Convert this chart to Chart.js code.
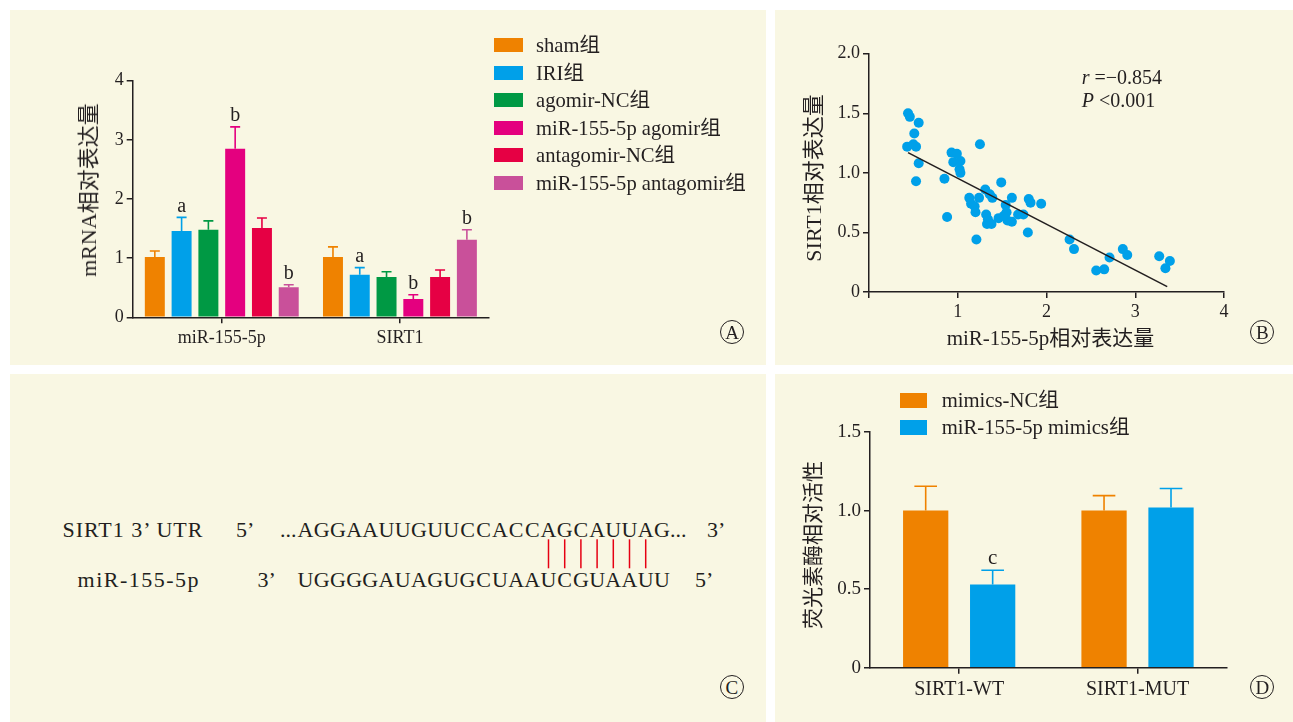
<!DOCTYPE html>
<html>
<head>
<meta charset="utf-8">
<script src="https://cdn.jsdelivr.net/npm/chart.js@4.4.1/dist/chart.umd.min.js"></script>
<style>
  body { margin: 0; width: 1293px; height: 722px; background: #fff; position: relative; overflow: hidden;
         font-family: 'Liberation Serif', 'Noto Sans CJK SC', serif; color: #231f20; }
  .panel { position: absolute; background: #f9f7e3; }
  canvas { position: absolute; }
  .t { position: absolute; white-space: nowrap; line-height: 1; }
  .sw { position: absolute; }
  .circ { position: absolute; width: 24px; height: 24px; border: 1.3px solid #231f20; border-radius: 50%;
          box-sizing: border-box; text-align: center; line-height: 23px; font-size: 19px; }
</style>
</head>
<body>
<div class="panel" style="left:10px;top:10px;width:756px;height:355px"></div>
<div class="panel" style="left:775px;top:10px;width:518px;height:355px"></div>
<div class="panel" style="left:10px;top:374px;width:756px;height:348px"></div>
<div class="panel" style="left:775px;top:374px;width:518px;height:348px"></div>

<canvas id="chartA" width="756" height="355" style="left:10px;top:10px"></canvas>
<canvas id="chartB" width="518" height="355" style="left:775px;top:10px"></canvas>
<canvas id="chartD" width="518" height="348" style="left:775px;top:374px"></canvas>
<svg id="seqC" width="756" height="348" style="position:absolute;left:10px;top:374px"></svg>

<script>
// ---- panel A: mRNA levels ----
const genesA = ['miR-155-5p', 'SIRT1'];
const groupsA = ['sham组', 'IRI组', 'agomir-NC组', 'miR-155-5p agomir组', 'antagomir-NC组', 'miR-155-5p antagomir组'];
const meanA = [[1.02, 1.02], [1.46, 0.72], [1.48, 0.68], [2.85, 0.31], [1.51, 0.68], [0.51, 1.31]];
const errA = [[0.10, 0.17], [0.23, 0.12], [0.15, 0.09], [0.37, 0.07], [0.17, 0.12], [0.04, 0.17]];
const sigA = [['', ''], ['a', 'a'], ['', ''], ['b', 'b'], ['', ''], ['b', 'b']];
const colorsA = ['#ef8200', '#00a0e9', '#009944', '#e4007f', '#e60044', '#c9509a'];

// ---- panel B: correlation ----
const scatterX = [0.44, 0.46, 0.56, 0.51, 0.43, 0.50, 0.53, 1.25, 0.56, 0.53, 0.85, 0.93, 0.99, 0.95, 1.03, 1.02,
  1.03, 0.88, 1.21, 1.13, 1.15, 1.19, 1.24, 1.20, 1.31, 1.36, 1.39, 1.49, 1.32, 1.34, 1.33, 1.38, 1.46, 1.52,
  1.54, 1.61, 1.55, 1.56, 1.61, 1.68, 1.74, 1.80, 1.82, 1.94, 1.79, 2.26, 2.31, 2.56, 2.65, 2.71, 2.86, 2.91,
  3.27, 3.39, 3.34];
const scatterY = [1.50, 1.47, 1.42, 1.33, 1.22, 1.24, 1.22, 1.24, 1.08, 0.93, 0.95, 1.17, 1.16, 1.09, 1.10, 1.03,
  1.00, 0.63, 0.44, 0.79, 0.74, 0.72, 0.79, 0.67, 0.86, 0.82, 0.79, 0.92, 0.65, 0.61, 0.57, 0.57, 0.62, 0.64,
  0.73, 0.79, 0.67, 0.60, 0.59, 0.65, 0.65, 0.78, 0.75, 0.74, 0.50, 0.44, 0.36, 0.18, 0.19, 0.29, 0.36, 0.31,
  0.30, 0.26, 0.20];
const fitX = [0.44, 3.36];
const fitY = [1.17, 0.045];
const statR = '−0.854';
const statP = '<0.001';

// ---- panel C: binding site ----
const utrSeq = 'AGGAAUUGUUCCACCAGCAUUAG';
const mirSeq = 'UGGGGAUAGUGCUAAUCGUAAUU';
const pairIdx = [15, 16, 17, 18, 19, 20, 21];

// ---- panel D: luciferase ----
const sitesD = ['SIRT1-WT', 'SIRT1-MUT'];
const groupsD = ['mimics-NC组', 'miR-155-5p mimics组'];
const meanD = [[1.00, 1.00], [0.53, 1.02]];
const errD = [[0.155, 0.095], [0.09, 0.12]];
const sigD = [['', ''], ['c', '']];
const colorsD = ['#ef8200', '#00a0e9'];

const ink = '#231f20';
const serif = "'Liberation Serif', 'Noto Sans CJK SC', serif";
Chart.defaults.font.family = serif;
Chart.defaults.color = ink;

// upper error bar with cap, plus the significance letter
const errorBars = {
  id: 'errorBars',
  afterDatasetsDraw(chart, args, opts) {
    const ctx = chart.ctx;
    const y = chart.scales.y;
    chart.data.datasets.forEach((ds, i) => {
      chart.getDatasetMeta(i).data.forEach((bar, j) => {
        const top = y.getPixelForValue(ds.data[j] + ds.err[j]);
        const half = bar.width * 0.25;
        ctx.save();
        ctx.strokeStyle = ds.backgroundColor;
        ctx.lineWidth = 1.6;
        ctx.beginPath();
        ctx.moveTo(bar.x, bar.y);
        ctx.lineTo(bar.x, top);
        ctx.moveTo(bar.x - half, top);
        ctx.lineTo(bar.x + half, top);
        ctx.stroke();
        if (ds.sig[j]) {
          ctx.fillStyle = ink;
          ctx.font = opts.font;
          ctx.textAlign = 'center';
          ctx.textBaseline = 'bottom';
          ctx.fillText(ds.sig[j], bar.x, top - 1);
        }
        ctx.restore();
      });
    });
  }
};

const axisGrid = { drawOnChartArea: false, color: ink, lineWidth: 1.5, tickLength: 6 };
const axisBorder = { color: ink, width: 1.5 };

new Chart(document.getElementById('chartA'), {
  type: 'bar',
  data: {
    labels: genesA,
    datasets: groupsA.map((g, i) => ({
      label: g, data: meanA[i], err: errA[i], sig: sigA[i],
      backgroundColor: colorsA[i], categoryPercentage: 0.902, barPercentage: 0.746
    }))
  },
  options: {
    responsive: false, animation: false, devicePixelRatio: 1,
    layout: { padding: { left: 0, top: 70.7, right: 277, bottom: 0 } },
    plugins: { legend: { display: false }, tooltip: { enabled: false }, errorBars: { font: '20px ' + serif } },
    scales: {
      x: {
        grid: Object.assign({ offset: false }, axisGrid), border: axisBorder,
        ticks: { font: { size: 18 }, padding: 4 },
        afterFit: s => { s.height = 47.7; }
      },
      y: {
        min: 0, max: 4,
        grid: axisGrid, border: axisBorder,
        ticks: { stepSize: 1, font: { size: 18 }, padding: 3 },
        afterFit: s => { s.width = 122.7; }
      }
    }
  },
  plugins: [errorBars]
});

new Chart(document.getElementById('chartB'), {
  type: 'scatter',
  data: {
    datasets: [
      {
        data: scatterX.map((x, i) => ({ x: x, y: scatterY[i] })),
        backgroundColor: '#00a0e9', borderColor: '#00a0e9', pointRadius: 5, borderWidth: 0, order: 1
      },
      {
        type: 'line', data: fitX.map((x, i) => ({ x: x, y: fitY[i] })),
        borderColor: ink, borderWidth: 1.6, pointRadius: 0, fill: false, order: 0
      }
    ]
  },
  options: {
    responsive: false, animation: false, devicePixelRatio: 1,
    layout: { padding: { left: 0, top: 43.7, right: 69, bottom: 0 } },
    plugins: { legend: { display: false }, tooltip: { enabled: false } },
    scales: {
      x: {
        type: 'linear', min: 0, max: 4,
        grid: axisGrid, border: axisBorder,
        ticks: { stepSize: 1, font: { size: 18 }, padding: 3, callback: v => v === 0 ? '' : v },
        afterFit: s => { s.height = 73; }
      },
      y: {
        min: 0, max: 2,
        grid: axisGrid, border: axisBorder,
        ticks: { stepSize: 0.5, font: { size: 18 }, padding: 3, callback: v => v === 0 ? '0' : v.toFixed(1) },
        afterFit: s => { s.width = 94; }
      }
    }
  }
});

new Chart(document.getElementById('chartD'), {
  type: 'bar',
  data: {
    labels: sitesD,
    datasets: groupsD.map((g, i) => ({
      label: g, data: meanD[i], err: errD[i], sig: sigD[i],
      backgroundColor: colorsD[i], categoryPercentage: 0.751, barPercentage: 0.676
    }))
  },
  options: {
    responsive: false, animation: false, devicePixelRatio: 1,
    layout: { padding: { left: 0, top: 58, right: 66.3, bottom: 0 } },
    plugins: { legend: { display: false }, tooltip: { enabled: false }, errorBars: { font: '21px ' + serif } },
    scales: {
      x: {
        grid: Object.assign({ offset: false }, axisGrid), border: axisBorder,
        ticks: { font: { size: 20 }, padding: 4 },
        afterFit: s => { s.height = 54.3; }
      },
      y: {
        min: 0, max: 1.5,
        grid: axisGrid, border: axisBorder,
        ticks: { stepSize: 0.5, font: { size: 19 }, padding: 3, callback: v => v === 0 ? '0' : v.toFixed(1) },
        afterFit: s => { s.width = 95; }
      }
    }
  },
  plugins: [errorBars]
});

// ---- text, legends, panel letters ----
function addText(html, x, y, size, extra) {
  const d = document.createElement('div');
  d.className = 't';
  d.innerHTML = html;
  d.style.left = x + 'px';
  d.style.top = y + 'px';
  d.style.fontSize = size + 'px';
  d.style.transform = extra || 'translate(0,-50%)';
  document.body.appendChild(d);
  return d;
}
function addLegend(names, colors, swX, swW, swH, textX, rowY, gap, size) {
  names.forEach((n, i) => {
    const cy = rowY + i * gap;
    const s = document.createElement('div');
    s.className = 'sw';
    s.style.cssText = `left:${swX}px;top:${cy - swH / 2}px;width:${swW}px;height:${swH}px;background:${colors[i]}`;
    document.body.appendChild(s);
    addText(n, textX, cy, size);
  });
}
function addCircle(letter, cx, cy) {
  const d = document.createElement('div');
  d.className = 'circ';
  d.textContent = letter;
  d.style.left = (cx - 12) + 'px';
  d.style.top = (cy - 12) + 'px';
  document.body.appendChild(d);
}

const rot = 'translate(-50%,-50%) rotate(-90deg)';
addText('mRNA相对表达量', 89, 190, 22, rot);
addLegend(groupsA, colorsA, 494, 29, 14, 536, 45.3, 27.5, 20.6);

addText('SIRT1相对表达量', 814, 177.5, 22, rot);
addText('miR-155-5p相对表达量', 1050.5, 338.3, 21, 'translate(-50%,-50%)');
addText('<i>r</i> =' + statR, 1081.7, 76.7, 20);
addText('<i>P</i> ' + statP, 1081.7, 100, 20);

addText('荧光素酶相对活性', 813.3, 545, 21, rot);
addLegend(groupsD, colorsD, 900, 27, 15, 941.7, 400, 27, 20.7);

addCircle('A', 732, 332.3);
addCircle('B', 1262.3, 332.3);
addCircle('C', 731.8, 686.7);
addCircle('D', 1262.3, 686.7);

// ---- panel C sequences (svg coords are relative to the panel) ----
const ox = 10, oy = 374;
const seqStart = 297.4 - ox, cell = 16.2;
const row1 = 536.7 - oy, row2 = 586.7 - oy;
let svg = `<g font-family="${serif.replace(/'/g, '')}" font-size="22" fill="${ink}">`;
svg += `<text x="${62.4 - ox}" y="${row1}" textLength="140" lengthAdjust="spacing">SIRT1 3’ UTR</text>`;
svg += `<text x="${236 - ox}" y="${row1}">5’</text>`;
svg += `<text x="${seqStart - 1}" y="${row1}" text-anchor="end">...</text>`;
utrSeq.split('').forEach((c, i) => {
  svg += `<text x="${seqStart + (i + 0.5) * cell}" y="${row1}" text-anchor="middle">${c}</text>`;
});
svg += `<text x="${seqStart + utrSeq.length * cell}" y="${row1}">...</text>`;
svg += `<text x="${707 - ox}" y="${row1}">3’</text>`;
svg += `<text x="${77.6 - ox}" y="${row2}" textLength="121" lengthAdjust="spacing">miR-155-5p</text>`;
svg += `<text x="${257.4 - ox}" y="${row2}">3’</text>`;
mirSeq.split('').forEach((c, i) => {
  svg += `<text x="${seqStart + (i + 0.5) * cell}" y="${row2}" text-anchor="middle">${c}</text>`;
});
svg += `<text x="${695 - ox}" y="${row2}">5’</text>`;
svg += '</g>';
pairIdx.forEach(i => {
  const x = seqStart + (i + 0.5) * cell;
  svg += `<line x1="${x}" y1="${539.3 - oy}" x2="${x}" y2="${568.3 - oy}" stroke="#e60012" stroke-width="1.5"/>`;
});
document.getElementById('seqC').innerHTML = svg;
</script>
</body>
</html>
